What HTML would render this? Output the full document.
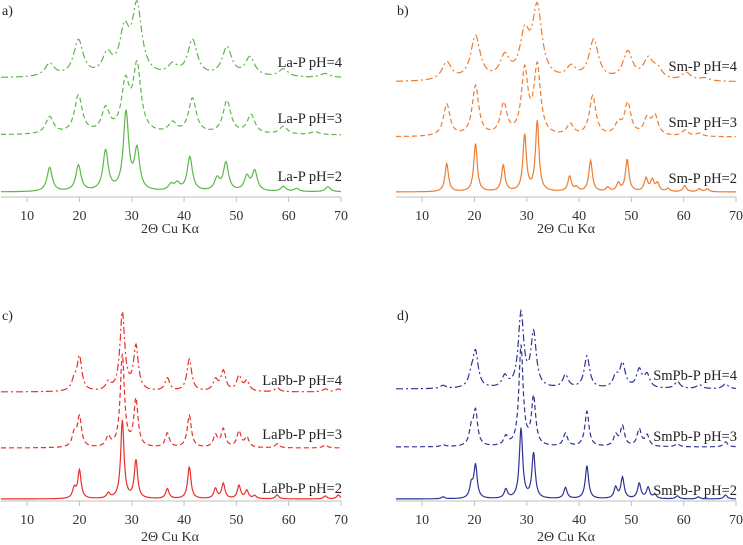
<!DOCTYPE html>
<html><head><meta charset="utf-8"><style>
html,body{margin:0;padding:0;background:#fff;}
svg{display:block;}
text{font-family:"Liberation Serif","DejaVu Serif",serif;}
</style></head><body>
<svg id="chart" width="743" height="545" viewBox="0 0 743 545" xmlns="http://www.w3.org/2000/svg"></svg>
<script>
// ---- data: peak positions (2θ), peak heights (px units of intensity), half-widths ----
const xTicks = [10,20,30,40,50,60,70];
const seriesNames = ["pH=2","pH=3","pH=4"];
// Panel a: La-P
const aP2pos = [14.3,19.8,25.0,28.9,31.0,37.5,38.7,41.1,46.3,48.0,52.0,53.5,59.0,61.5,67.5];
const aP2int = [24,26,40,78,40,6,7,34,12,28,14,20,5,3,5];
const aP3pos = [14.3,19.8,25.0,28.8,31.0,37.8,41.6,48.2,52.8,59.0,65.0];
const aP3int = [17,38,24,48,66,10,35,33,19,8,3];
const aP4pos = [14.3,19.8,25.3,28.6,31.0,37.8,41.6,48.2,52.6,59.0,67.0];
const aP4int = [13,36,20,42,68,10,36,29,19,8,4];
const aWid = [0.6,0.9,1.1];
// Panel b: Sm-P
const bP2pos = [14.7,20.2,25.5,29.6,32.0,38.2,39.5,42.2,45.5,47.5,49.2,52.8,54.0,55.0,57.0,60.2,63.0,64.5];
const bP2int = [28,48,26,56,70,15,4,31,4,8,32,13,11,8,3,6,3,3];
const bP3pos = [14.7,20.2,25.6,29.6,32.0,38.3,42.6,47.5,49.3,53.0,54.5,60.3,63.0];
const bP3int = [32,50,31,64,68,11,40,11,32,16,19,6,3];
const bP4pos = [14.7,20.2,25.8,29.6,32.0,38.5,42.8,49.3,53.2,55.0,60.5,64.0];
const bP4int = [18,44,22,42,70,12,40,28,20,10,8,3];
const bWid = [0.4,0.75,1.1];
// Panel c: LaPb-P
const cP2pos = [19.0,20.0,25.5,28.2,30.8,36.8,41.0,46.0,47.5,50.5,52.0,53.5,57.8,67.0,69.5];
const cP2int = [10,28,5,78,38,10,32,10,15,13,8,3,4,3,4];
const cP3pos = [19.0,20.0,25.5,28.2,30.8,36.8,41.0,46.0,47.5,50.5,52.0,57.8,67.0];
const cP3int = [13,30,10,92,47,14,32,12,18,16,10,4,3];
const cP4pos = [19.0,20.0,25.5,28.2,30.8,36.8,41.0,46.0,47.5,50.5,52.0,57.8,67.0,69.5];
const cP4int = [10,34,8,78,44,13,32,11,20,15,10,4,3,3];
const cWid = [0.38,0.48,0.55];
// Panel d: SmPb-P
const dP2pos = [14.0,19.4,20.2,26.0,28.9,31.3,37.4,41.5,47.0,48.3,51.5,53.2,54.5,58.8,62.8,68.0];
const dP2int = [2,13,33,9,70,45,11,33,11,21,15,11,4,3,2,4];
const dP3pos = [14.0,19.4,20.2,26.0,28.9,31.3,37.4,41.5,47.0,48.3,51.5,53.0,58.8,68.0];
const dP3int = [2,16,34,9,100,48,13,35,11,20,17,11,3,5];
const dP4pos = [14.0,19.4,20.2,25.8,28.9,31.3,37.4,41.5,47.0,48.3,51.5,53.0,58.8,63.0,68.0];
const dP4int = [3,10,35,11,74,54,13,32,11,24,18,13,7,4,5];
const dWid = [0.38,0.48,0.62];

const panels = [
 {key:"a",label:"a)",name:"La-P",color:"#5db84a",x0:1,x1:341,axisY:197,base:[192,135,78],labelY:[176,118,62],
  pos:[aP2pos,aP3pos,aP4pos],int:[aP2int,aP3int,aP4int],wid:aWid,tl:[2,11],title:[170,229]},
 {key:"b",label:"b)",name:"Sm-P",color:"#ed7d31",x0:396,x1:736,axisY:197,base:[192,137,82],labelY:[178,122,66],
  pos:[bP2pos,bP3pos,bP4pos],int:[bP2int,bP3int,bP4int],wid:bWid,tl:[397,11],title:[566,229]},
 {key:"c",label:"c)",name:"LaPb-P",color:"#e8302b",x0:1,x1:341,axisY:501,base:[499,448,392],labelY:[488,434,380],
  pos:[cP2pos,cP3pos,cP4pos],int:[cP2int,cP3int,cP4int],wid:cWid,tl:[2,316],title:[170,537]},
 {key:"d",label:"d)",name:"SmPb-P",color:"#2f3493",x0:396,x1:736,axisY:501,base:[499,447,389],labelY:[490,436,375],
  pos:[dP2pos,dP3pos,dP4pos],int:[dP2int,dP3int,dP4int],wid:dWid,tl:[397,316],title:[566,537]}
];
const dashes = ["", "5,3", "7,3,2,3"];

const svg = document.getElementById('chart');
const NS = "http://www.w3.org/2000/svg";
function mk(tag, attrs){ const e=document.createElementNS(NS,tag); for(const k in attrs) e.setAttribute(k,attrs[k]); svg.appendChild(e); return e; }
const FF = '"Liberation Serif", serif';

panels.forEach(p=>{
  const xs = t => p.x0 + (t-5)/(70-5)*(p.x1-p.x0);
  const ax = mk('line',{x1:p.x0,x2:p.x1,y1:p.axisY,y2:p.axisY,stroke:'#bfbfbf','stroke-width':1});
  
  
  xTicks.forEach(t=>{
    const tk = mk('line',{x1:xs(t),x2:xs(t),y1:p.axisY,y2:p.axisY+5,stroke:'#bfbfbf','stroke-width':1});
    
    
    const tx = mk('text',{x:xs(t),y:p.axisY+23,'text-anchor':'middle','font-size':14,fill:'#333','font-family':FF});
    tx.textContent = t;
    
    
  });
  const tt = mk('text',{x:p.title[0],y:p.title[1]+4,'text-anchor':'middle','font-size':14,fill:'#333','font-family':FF});
  tt.textContent = "2Θ Cu Kα";
  
  
  const pl = mk('text',{x:p.tl[0],y:p.tl[1]+4,'font-size':14,fill:'#222','font-family':FF});
  pl.textContent = p.label;
  
  
  for(let s=0;s<3;s++){
    const pos=p.pos[s], inten=p.int[s], w=p.wid[s];
    let d="";
    for(let t=5;t<=70.0001;t+=0.1){
      let v=0;
      for(let k=0;k<pos.length;k++){ const z=(t-pos[k])/w; v+=inten[k]/(1+z*z); }
      const y = p.base[s]-v;
      d += (d?"L":"M")+xs(t).toFixed(1)+","+y.toFixed(1);
    }
    const path = mk('path',{d:d,fill:'none',stroke:p.color,'stroke-width':1.2,'stroke-dasharray':dashes[s]});
    
    
    const lb = mk('text',{x:p.x1+1,y:p.labelY[s]+5,'text-anchor':'end','font-size':14.5,fill:'#222','font-family':FF});
    lb.textContent = p.name+" "+seriesNames[s];
    
    
  }
});
</script>
</body></html>
